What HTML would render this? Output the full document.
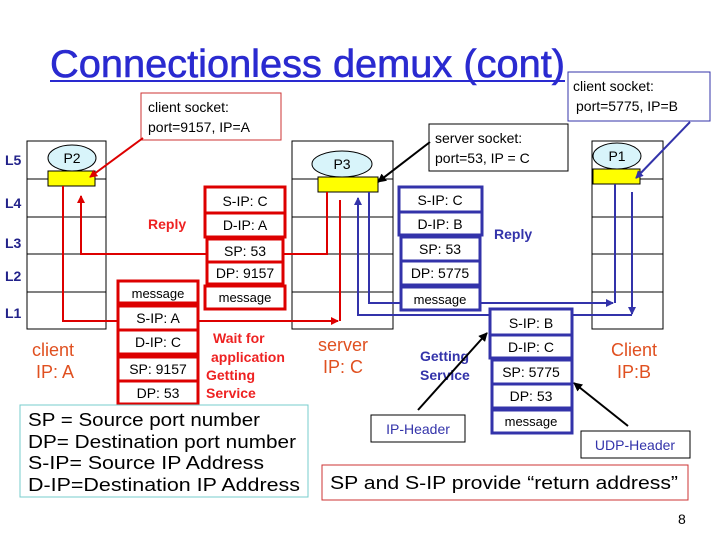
<!DOCTYPE html>
<html><head><meta charset="utf-8"><style>
body{margin:0;background:#fff;}
svg{display:block;font-family:"Liberation Sans",sans-serif;}
</style></head><body>
<svg width="720" height="540" viewBox="0 0 720 540" xmlns="http://www.w3.org/2000/svg">
<defs>
<marker id="ar" markerWidth="8" markerHeight="8" refX="7" refY="4" orient="auto" markerUnits="userSpaceOnUse"><path d="M0,0 L8,4 L0,8 z" fill="#d00"/></marker>
<marker id="ab" markerWidth="8" markerHeight="8" refX="7" refY="4" orient="auto" markerUnits="userSpaceOnUse"><path d="M0,0 L8,4 L0,8 z" fill="#33a"/></marker>
<marker id="ak" markerWidth="9" markerHeight="9" refX="8" refY="4.5" orient="auto" markerUnits="userSpaceOnUse"><path d="M0,0 L9,4.5 L0,9 z" fill="#000"/></marker>
</defs>
<text x="50" y="77" font-size="39" fill="#2a2ad0" stroke="#2a2ad0" stroke-width="0.6" textLength="515" lengthAdjust="spacingAndGlyphs">Connectionless demux (cont)</text>
<line x1="50" y1="81" x2="565" y2="81" stroke="#2a2ad0" stroke-width="2"/>

<g font-size="14" font-weight="bold" fill="#22228a">
<text x="5" y="165">L5</text><text x="5" y="208">L4</text><text x="5" y="248">L3</text><text x="5" y="281">L2</text><text x="5" y="318">L1</text></g>

<g fill="none" stroke="#000" stroke-width="1">
<rect x="27" y="141" width="79" height="188"/>
<line x1="27" y1="179" x2="106" y2="179"/><line x1="27" y1="217" x2="106" y2="217"/><line x1="27" y1="254" x2="106" y2="254"/><line x1="27" y1="292" x2="106" y2="292"/>
<rect x="292" y="141" width="101" height="188"/>
<line x1="292" y1="179" x2="393" y2="179"/><line x1="292" y1="217" x2="393" y2="217"/><line x1="292" y1="254" x2="393" y2="254"/><line x1="292" y1="292" x2="393" y2="292"/>
<rect x="592" y="141" width="71" height="188"/>
<line x1="592" y1="179" x2="663" y2="179"/><line x1="592" y1="217" x2="663" y2="217"/><line x1="592" y1="254" x2="663" y2="254"/><line x1="592" y1="292" x2="663" y2="292"/>
</g>
<g stroke="#000" stroke-width="1">
<ellipse cx="72" cy="158" rx="24" ry="13" fill="#d8f4fa"/>
<ellipse cx="342" cy="164" rx="30" ry="13" fill="#d8f4fa"/>
<ellipse cx="617" cy="156" rx="24" ry="13" fill="#d8f4fa"/>
<rect x="48" y="171" width="47" height="15" fill="#ffff00"/>
<rect x="318" y="177" width="60" height="15" fill="#ffff00"/>
<rect x="593" y="169" width="47" height="15" fill="#ffff00"/>
</g>
<g font-size="14" text-anchor="middle"><text x="72" y="163">P2</text><text x="342" y="169">P3</text><text x="617" y="161">P1</text></g>

<g fill="none" stroke="#d00" stroke-width="2">
<polyline points="63,186 63,321 338,321" marker-end="url(#ar)"/>
<polyline points="327,192 327,254 81,254 81,196" marker-end="url(#ar)"/>
<line x1="340" y1="200" x2="340" y2="321"/>
</g>
<g fill="none" stroke="#33a" stroke-width="2">
<polyline points="369,192 369,303 613,303" marker-end="url(#ab)"/>
<line x1="615" y1="184" x2="615" y2="303"/>
<polyline points="632,192 632,314" marker-end="url(#ab)"/>
<polyline points="632,315 358,315 358,198" marker-end="url(#ab)"/>
</g>

<g stroke="#d00" stroke-width="3" fill="#fff">
<rect x="205" y="187" width="80" height="50"/><line x1="205" y1="213" x2="285" y2="213"/>
<rect x="207" y="239" width="76" height="45"/><line x1="207" y1="262" x2="283" y2="262"/>
<rect x="205" y="286" width="80" height="23"/>
<rect x="118" y="281" width="80" height="22"/>
<rect x="118" y="306" width="80" height="48"/><line x1="118" y1="330" x2="198" y2="330"/>
<rect x="118" y="357" width="80" height="47"/><line x1="118" y1="381" x2="198" y2="381"/>
</g>
<g stroke="#33a" stroke-width="3" fill="#fff">
<rect x="399" y="187" width="83" height="48"/><line x1="399" y1="212" x2="482" y2="212"/>
<rect x="401" y="237" width="79" height="48"/><line x1="401" y1="261" x2="480" y2="261"/>
<rect x="401" y="287" width="79" height="23"/>
<rect x="490" y="309" width="82" height="49"/><line x1="490" y1="335" x2="572" y2="335"/>
<rect x="492" y="360" width="80" height="48"/><line x1="492" y1="384" x2="572" y2="384"/>
<rect x="492" y="410" width="80" height="23"/>
</g>
<g font-size="14" text-anchor="middle" fill="#000">
<text x="245" y="206">S-IP: C</text><text x="245" y="230">D-IP: A</text>
<text x="245" y="256">SP: 53</text><text x="245" y="278">DP: 9157</text><text x="245" y="302" font-size="13">message</text>
<text x="158" y="298" font-size="13">message</text><text x="158" y="323">S-IP: A</text><text x="158" y="347">D-IP: C</text>
<text x="158" y="374">SP: 9157</text><text x="158" y="398">DP: 53</text>
<text x="440" y="205">S-IP: C</text><text x="440" y="229">D-IP: B</text>
<text x="440" y="254">SP: 53</text><text x="440" y="278">DP: 5775</text><text x="440" y="304" font-size="13">message</text>
<text x="531" y="328">S-IP: B</text><text x="531" y="352">D-IP: C</text>
<text x="531" y="377">SP: 5775</text><text x="531" y="401">DP: 53</text><text x="531" y="426" font-size="13">message</text>
</g>

<g font-size="14" font-weight="bold">
<text x="148" y="229" fill="#e22">Reply</text>
<text x="494" y="239" fill="#33a">Reply</text>
<text x="213" y="343" fill="#e22">Wait for</text>
<text x="211" y="362" fill="#e22">application</text>
<text x="206" y="380" fill="#e22">Getting</text>
<text x="206" y="398" fill="#e22">Service</text>
<text x="420" y="361" fill="#33a">Getting</text>
<text x="420" y="380" fill="#33a">Service</text>
</g>
<g font-size="18" fill="#e05020" text-anchor="middle">
<text x="53" y="356">client</text><text x="55" y="378">IP: A</text>
<text x="343" y="351">server</text><text x="343" y="373">IP: C</text>
<text x="634" y="356">Client</text><text x="634" y="378">IP:B</text>
</g>

<rect x="141" y="93" width="140" height="47" fill="#fff" stroke="#c33"/>
<text x="148" y="112" font-size="14">client socket:</text><text x="148" y="132" font-size="14">port=9157, IP=A</text>
<line x1="143" y1="138" x2="90" y2="177" stroke="#d00" stroke-width="2" marker-end="url(#ar)"/>
<rect x="568" y="72" width="142" height="49" fill="#fff" stroke="#33a"/>
<text x="573" y="91" font-size="14">client socket:</text><text x="576" y="111" font-size="14">port=5775, IP=B</text>
<line x1="690" y1="122" x2="636" y2="178" stroke="#33a" stroke-width="2" marker-end="url(#ab)"/>
<rect x="429" y="124" width="139" height="47" fill="#fff" stroke="#000"/>
<text x="435" y="143" font-size="14">server socket:</text><text x="435" y="163" font-size="14">port=53, IP = C</text>
<line x1="430" y1="142" x2="378" y2="182" stroke="#000" stroke-width="2" marker-end="url(#ak)"/>
<rect x="371" y="415" width="94" height="27" fill="#fff" stroke="#000"/>
<text x="418" y="434" font-size="14" fill="#33a" text-anchor="middle">IP-Header</text>
<line x1="418" y1="410" x2="487" y2="333" stroke="#000" stroke-width="2" marker-end="url(#ak)"/>
<rect x="581" y="431" width="109" height="27" fill="#fff" stroke="#000"/>
<text x="635" y="450" font-size="14" fill="#33a" text-anchor="middle">UDP-Header</text>
<line x1="628" y1="426" x2="574" y2="383" stroke="#000" stroke-width="2" marker-end="url(#ak)"/>

<rect x="20" y="405" width="288" height="92" fill="#fff" stroke="#7cc"/>
<g font-size="18"><text x="28" y="426" textLength="232" lengthAdjust="spacingAndGlyphs">SP = Source port number</text>
<text x="28" y="448" textLength="268" lengthAdjust="spacingAndGlyphs">DP= Destination port number</text>
<text x="28" y="469" textLength="236" lengthAdjust="spacingAndGlyphs">S-IP= Source IP Address</text>
<text x="28" y="491" textLength="272" lengthAdjust="spacingAndGlyphs">D-IP=Destination IP Address</text></g>
<rect x="322" y="465" width="366" height="35" fill="#fff" stroke="#c33"/>
<text x="330" y="489" font-size="18" textLength="348" lengthAdjust="spacingAndGlyphs">SP and S-IP provide “return address”</text>
<text x="678" y="524" font-size="14">8</text>
</svg>
</body></html>
